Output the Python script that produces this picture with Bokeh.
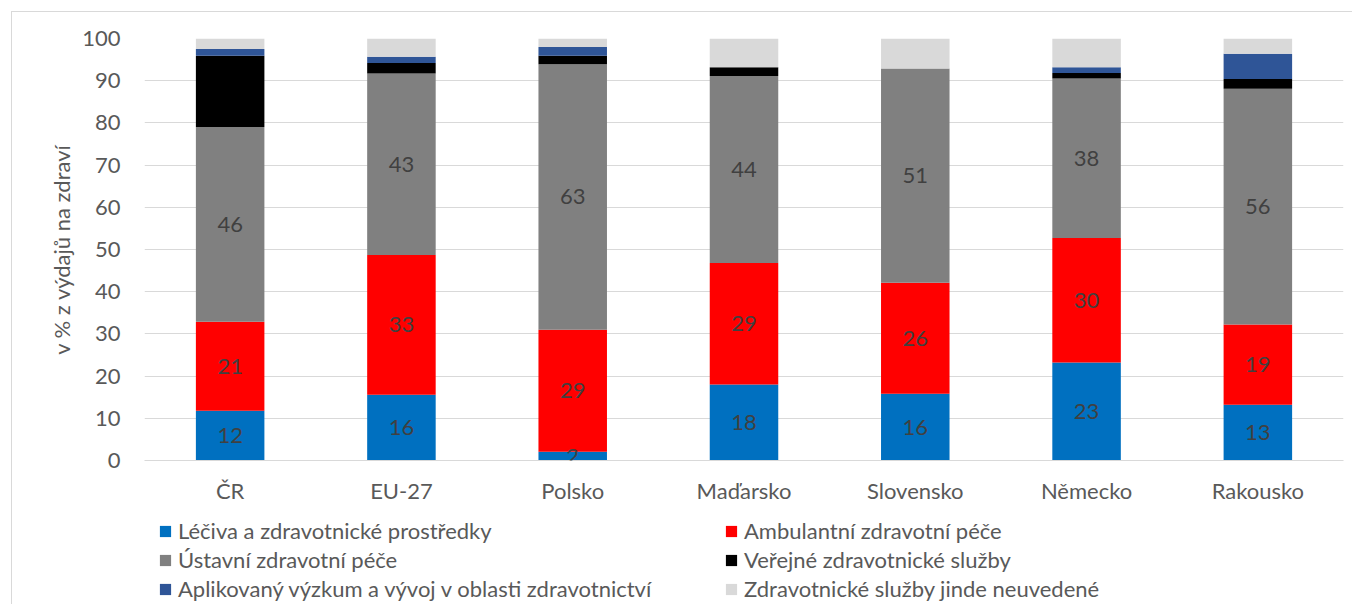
import numpy as np
from bokeh.plotting import figure
from bokeh.layouts import column
from bokeh.models import ColumnDataSource, Legend, LegendItem, FactorRange, Range1d, LabelSet, SingleIntervalTicker
from bokeh.core.properties import value
from bokeh.embed import file_html
from bokeh.resources import INLINE

countries = ["ČR", "EU-27", "Polsko", "Maďarsko", "Slovensko", "Německo", "Rakousko"]
series_names = [
    "Léčiva a zdravotnické prostředky",
    "Ambulantní zdravotní péče",
    "Ústavní zdravotní péče",
    "Veřejné zdravotnické služby",
    "Aplikovaný výzkum a vývoj v oblasti zdravotnictví",
    "Zdravotnické služby jinde neuvedené",
]
leciva      = [11.8, 15.6, 2.1, 18.0, 15.8, 23.2, 13.2]
ambulantni  = [21.1, 33.1, 28.9, 28.8, 26.3, 29.5, 19.0]
ustavni     = [46.1, 43.0, 62.9, 44.3, 50.8, 37.8, 55.9]
verejne     = [16.9, 2.5, 2.0, 2.1, 0.0, 1.3, 2.3]
vyzkum      = [1.6, 1.5, 2.1, 0.0, 0.0, 1.4, 6.0]
jinde       = [2.5, 4.3, 2.0, 6.8, 7.1, 6.8, 3.6]

keys = ["leciva", "ambulantni", "ustavni", "verejne", "vyzkum", "jinde"]
colors = ["#0070C0", "#FF0000", "#808080", "#000000", "#2F5597", "#D9D9D9"]

data = dict(cat=countries, leciva=leciva, ambulantni=ambulantni, ustavni=ustavni,
            verejne=verejne, vyzkum=vyzkum, jinde=jinde)
src = ColumnDataSource(data)

FONT = "Lato"
FS = "22px"

p = figure(x_range=FactorRange(*countries, range_padding=0.0), y_range=Range1d(0, 100),
           width=1340, height=494, output_backend="svg", toolbar_location=None,
           min_border_left=132, min_border_right=9, min_border_top=26, min_border_bottom=43)
p.outline_line_color = None

renderers = p.vbar_stack(keys, x="cat", width=0.4, color=colors, source=src, line_color=None)

# data labels for first three series
cum = np.zeros(len(countries))
for k, vals in zip(keys[:3], [leciva, ambulantni, ustavni]):
    v = np.array(vals)
    mid = cum + v / 2
    cum = cum + v
    lsrc = ColumnDataSource(dict(cat=countries, y=mid, t=[str(int(round(x))) for x in v]))
    lab = LabelSet(x="cat", y="y", text="t", source=lsrc, text_align="center", text_baseline="middle",
                   text_font=value(FONT), text_font_size=value(FS), text_color="#404040")
    p.add_layout(lab)

p.yaxis.ticker = SingleIntervalTicker(interval=10)
p.yaxis.axis_line_color = None
p.yaxis.major_tick_line_color = None
p.yaxis.minor_tick_line_color = None
p.yaxis.major_tick_out = 0
p.yaxis.major_label_text_font = FONT
p.yaxis.major_label_text_font_size = FS
p.yaxis.major_label_text_color = "#595959"
p.yaxis.major_label_standoff = 20
p.yaxis.axis_label = "v % z výdajů na zdraví"
p.yaxis.axis_label_text_font = FONT
p.yaxis.axis_label_text_font_size = FS
p.yaxis.axis_label_text_font_style = "normal"
p.yaxis.axis_label_text_color = "#595959"
p.yaxis.axis_label_standoff = 4

p.xaxis.axis_line_color = "#d9d9d9"
p.xaxis.axis_line_width = 1
p.xaxis.major_tick_line_color = None
p.xaxis.minor_tick_line_color = None
p.xaxis.major_label_text_font = FONT
p.xaxis.major_label_text_font_size = FS
p.xaxis.major_label_text_color = "#595959"
p.xaxis.major_label_standoff = 10

p.xgrid.grid_line_color = None
p.ygrid.grid_line_color = "#d9d9d9"
p.ygrid.grid_line_width = 1

# legend figure (swatch renderers are hidden; legend drawn with no inactive overlay)
q = figure(width=1340, height=98, output_backend="svg", toolbar_location=None,
           min_border_left=132, min_border_right=9, min_border_top=0, min_border_bottom=0,
           x_range=FactorRange(*countries), y_range=Range1d(0, 100))
q.axis.visible = False
q.grid.visible = False
q.outline_line_color = None
swatches = q.vbar_stack(keys, x="cat", width=0.4, color=colors, source=src, line_color=None)
for r in swatches:
    r.visible = False
order = [0, 2, 4, 1, 3, 5]
items = [LegendItem(label=series_names[i], renderers=[swatches[i]]) for i in order]
leg = Legend(items=items, location=(14, 2), orientation="vertical", ncols=2,
             border_line_color=None, background_fill_alpha=0, padding=0, margin=0,
             inactive_fill_alpha=0,
             glyph_width=14, glyph_height=14, label_height=22, label_width=544, spacing=2,
             label_standoff=6,
             label_text_font=FONT, label_text_font_size=FS, label_text_color="#595959")
q.add_layout(leg, "center")

layout = column(p, q, spacing=0)
layout.styles = {"margin-left": "11px", "margin-top": "11px",
                 "border-left": "1px solid #d9d9d9", "border-top": "1px solid #d9d9d9"}

open("out.html", "w").write(file_html(layout, INLINE))
